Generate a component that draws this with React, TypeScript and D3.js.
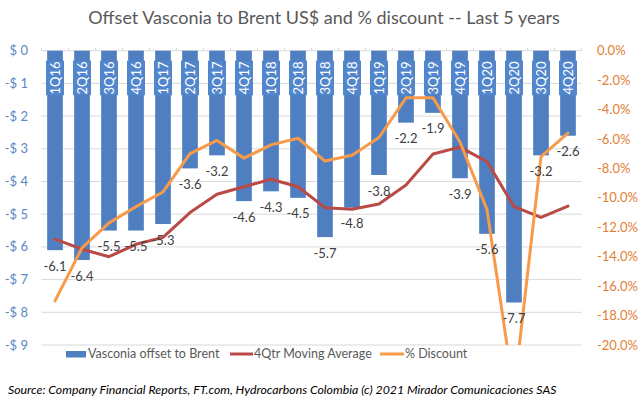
import { useEffect, useRef } from 'react';
import * as d3 from 'd3';

const categories = ['1Q16', '2Q16', '3Q16', '4Q16', '1Q17', '2Q17', '3Q17', '4Q17', '1Q18', '2Q18',
  '3Q18', '4Q18', '1Q19', '2Q19', '3Q19', '4Q19', '1Q20', '2Q20', '3Q20', '4Q20'];
const offsetValues = [-6.1, -6.4, -5.5, -5.5, -5.3, -3.6, -3.2, -4.6, -4.3, -4.5,
  -5.7, -4.8, -3.8, -2.2, -1.9, -3.9, -5.6, -7.7, -3.2, -2.6];
const movingAverage = [-5.76, -6.07, -6.3, -5.92, -5.71, -4.95, -4.39, -4.16, -3.93, -4.16,
  -4.8, -4.85, -4.69, -4.11, -3.16, -2.95, -3.39, -4.77, -5.1, -4.75];
const discountPct = [-17.0, -13.4, -11.7, -10.6, -9.6, -7.0, -6.1, -7.3, -6.4, -5.95,
  -7.5, -7.1, -5.9, -3.2, -3.2, -6.2, -10.8, -23.2, -7.2, -5.6];
const leftTicks = [0, -1, -2, -3, -4, -5, -6, -7, -8, -9];
const rightTicks = [0, -2, -4, -6, -8, -10, -12, -14, -16, -18, -20];

const FONT = 'Lato, "Open Sans", sans-serif';

const App = () => {
  const svgRef = useRef<SVGSVGElement>(null);

  useEffect(() => {
    document.body.style.margin = '0';
    const width = 643;
    const height = 398;
    const left = 41.5;
    const right = 581.5;
    const top = 50.7;
    const bottom = 345;

    const svg = d3.select(svgRef.current).attr('width', width).attr('height', height);
    svg.selectAll('*').remove();

    const x = d3.scaleBand<string>().domain(categories).range([left, right])
      .paddingInner(0.42).paddingOuter(0.21);
    const yL = d3.scaleLinear().domain([-9, 0]).range([bottom, top]);
    const yR = d3.scaleLinear().domain([-20, 0]).range([bottom, top]);
    const cx = (c: string) => (x(c) as number) + x.bandwidth() / 2;

    svg.append('rect').attr('width', width).attr('height', height).attr('fill', '#fff');

    svg.append('defs').append('clipPath').attr('id', 'plot')
      .append('rect').attr('x', left).attr('y', top).attr('width', right - left).attr('height', bottom - top);

    // gridlines
    svg.append('g').selectAll('line').data(leftTicks).enter().append('line')
      .attr('x1', left).attr('x2', right)
      .attr('y1', (d) => yL(d)).attr('y2', (d) => yL(d))
      .attr('stroke', '#d9d9d9').attr('stroke-width', 1);

    // category axis at top with small ticks
    svg.append('g').selectAll('line').data(d3.range(categories.length + 1)).enter().append('line')
      .attr('x1', (i) => left + i * x.step()).attr('x2', (i) => left + i * x.step())
      .attr('y1', top - 3).attr('y2', top)
      .attr('stroke', '#d9d9d9');

    // axis labels
    svg.append('g').selectAll('text').data(leftTicks).enter().append('text')
      .attr('x', 28).attr('y', (d) => yL(d)).attr('dy', '0.35em')
      .attr('text-anchor', 'end').attr('fill', '#5b87c5')
      .style('font-family', FONT).style('font-size', '13px')
      .text((d) => (d === 0 ? '$ 0' : `-$ ${-d}`));

    svg.append('g').selectAll('text').data(rightTicks).enter().append('text')
      .attr('x', 597).attr('y', (d) => yR(d)).attr('dy', '0.35em')
      .attr('fill', '#df7f35')
      .style('font-family', FONT).style('font-size', '13px')
      .text((d) => `${d.toFixed(1)}%`);

    // bars
    svg.append('g').selectAll('rect').data(offsetValues).enter().append('rect')
      .attr('x', (_d, i) => x(categories[i]) as number)
      .attr('y', yL(0))
      .attr('width', x.bandwidth())
      .attr('height', (d) => yL(d) - yL(0))
      .attr('fill', '#4f7fc0');

    // category label boxes
    const cat = svg.append('g');
    cat.selectAll('rect').data(categories).enter().append('rect')
      .attr('x', (d) => cx(d) - 9).attr('y', 60.7)
      .attr('width', 18).attr('height', 34.5)
      .attr('fill', '#5286cc');
    cat.selectAll('text').data(categories).enter().append('text')
      .attr('transform', (d) => `translate(${cx(d)},78) rotate(-90)`)
      .attr('text-anchor', 'middle').attr('dy', '0.36em')
      .attr('fill', '#fff')
      .style('font-family', FONT).style('font-size', '13px')
      .text((d) => d);

    // lines
    const lineL = d3.line<number>().x((_d, i) => cx(categories[i])).y((d) => yL(d));
    const lineR = d3.line<number>().x((_d, i) => cx(categories[i])).y((d) => yR(d));
    const lines = svg.append('g').attr('clip-path', 'url(#plot)');
    lines.append('path').datum(movingAverage).attr('d', lineL)
      .attr('fill', 'none').attr('stroke', '#b94a46').attr('stroke-width', 3)
      .attr('stroke-linejoin', 'round').attr('stroke-linecap', 'round');
    lines.append('path').datum(discountPct).attr('d', lineR)
      .attr('fill', 'none').attr('stroke', '#f79b4b').attr('stroke-width', 3)
      .attr('stroke-linejoin', 'round').attr('stroke-linecap', 'round');

    // value labels
    svg.append('g').selectAll('text').data(offsetValues).enter().append('text')
      .attr('x', (_d, i) => cx(categories[i]))
      .attr('y', (d) => yL(d) + 16).attr('dy', '0.35em')
      .attr('text-anchor', 'middle').attr('fill', '#404040')
      .style('font-family', FONT).style('font-size', '13px')
      .text((d) => d.toFixed(1));

    // title
    svg.append('text').attr('x', 324).attr('y', 18).attr('dy', '0.35em')
      .attr('text-anchor', 'middle').attr('fill', '#595959')
      .style('font-family', FONT).style('font-size', '18px')
      .text('Offset Vasconia to Brent US$ and % discount -- Last 5 years');

    // legend
    const lg = svg.append('g').style('font-family', FONT).style('font-size', '12.5px').attr('fill', '#595959');
    lg.append('rect').attr('x', 66).attr('y', 351).attr('width', 20).attr('height', 6.5).attr('fill', '#4f7fc0');
    lg.append('text').attr('x', 88).attr('y', 354).attr('dy', '0.35em').text('Vasconia offset to Brent');
    lg.append('line').attr('x1', 230).attr('x2', 253).attr('y1', 354).attr('y2', 354)
      .attr('stroke', '#b94a46').attr('stroke-width', 3);
    lg.append('text').attr('x', 254).attr('y', 354).attr('dy', '0.35em').text('4Qtr Moving Average');
    lg.append('line').attr('x1', 380).attr('x2', 404).attr('y1', 354).attr('y2', 354)
      .attr('stroke', '#f79b4b').attr('stroke-width', 3);
    lg.append('text').attr('x', 405).attr('y', 354).attr('dy', '0.35em').text('% Discount');

    // source
    svg.append('text').attr('x', 8).attr('y', 390).attr('dy', '0.35em')
      .attr('fill', '#000').style('font-family', FONT).style('font-size', '12.3px').style('font-style', 'italic')
      .text('Source:  Company Financial Reports, FT.com,  Hydrocarbons Colombia (c) 2021 Mirador Comunicaciones SAS');
  }, []);

  return <svg ref={svgRef} style={{ display: 'block' }}></svg>;
};

export default App;
